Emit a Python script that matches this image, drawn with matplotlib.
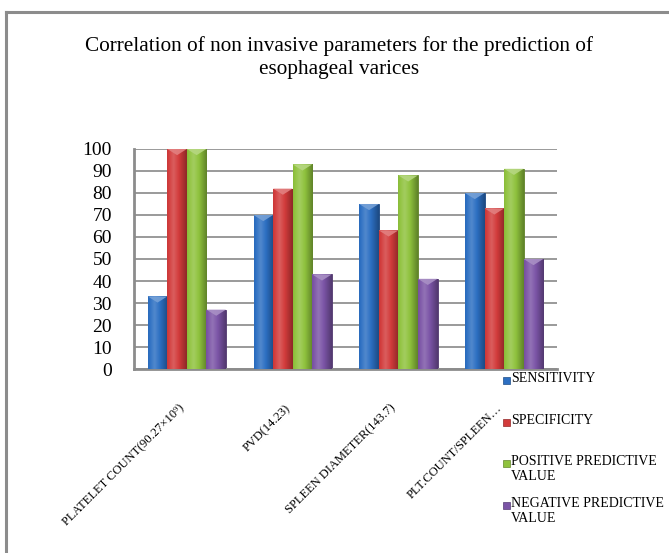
"""
Grouped 3D-style bar chart: non invasive parameters for predicting
esophageal varices (sensitivity / specificity / PPV / NPV).
"""

import numpy as np
import matplotlib

matplotlib.use("Agg")
import matplotlib.pyplot as plt
from matplotlib.colors import to_rgb
from matplotlib.lines import Line2D
from matplotlib.patches import Polygon, Rectangle

categories = [
    "PLATELET COUNT(90.27×10⁹)",
    "PVD(14.23)",
    "SPLEEN DIAMETER(143.7)",
    "PLT.COUNT/SPLEEN…",
]
series_names = [
    "SENSITIVITY",
    "SPECIFICITY",
    "POSITIVE PREDICTIVE\nVALUE",
    "NEGATIVE PREDICTIVE\nVALUE",
]
sensitivity = [33, 70, 75, 80]
specificity = [100, 82, 63, 73]
ppv = [100, 93, 88, 91]
npv = [27, 43, 41, 50]
y_ticks = [0, 10, 20, 30, 40, 50, 60, 70, 80, 90, 100]

colors = ["#2c6fc2", "#d23b3b", "#8fc23d", "#7b54a6"]
SERIF = ["Liberation Serif", "DejaVu Serif"]


def mix(c, other, t):
    c = np.array(to_rgb(c))
    return c * (1 - t) + np.array(other) * t


def shade_bars(ax, bars, color):
    # cylinder-like horizontal gradient plus a lighter pyramid cap
    t = np.linspace(0, 1, 80)
    light = np.clip(1 - np.abs(t - 0.33) / 0.67, 0, 1)
    rows = []
    for v in light:
        if v > 0.6:
            rows.append(mix(color, (1, 1, 1), (v - 0.6) * 0.45))
        else:
            rows.append(mix(color, (0, 0, 0), (0.6 - v) * 0.55))
    img = np.array(rows)[None, :, :]
    for b in bars:
        x0, y0, w, h = b.get_x(), b.get_y(), b.get_width(), b.get_height()
        im = ax.imshow(img, extent=(x0, x0 + w, y0, y0 + h), aspect="auto",
                       interpolation="bicubic", zorder=3)
        im.set_clip_path(b)
        cap = Polygon([(x0, y0 + h), (x0 + w, y0 + h), (x0 + w / 2, y0 + h - 2.8)],
                      closed=True, facecolor=mix(color, (1, 1, 1), 0.35),
                      edgecolor="none", zorder=4, alpha=0.9)
        ax.add_patch(cap)


fig = plt.figure(figsize=(6.69, 5.53), dpi=100)
ax = fig.add_axes([0.2003, 0.3327, 0.6323, 0.3979])

values = [sensitivity, specificity, ppv, npv]
x = np.arange(len(categories))
width = 0.185
for i, (vals, col) in enumerate(zip(values, colors)):
    bars = ax.bar(x + (i - 1.5) * width, vals, width, color=col,
                  edgecolor=mix(col, (0, 0, 0), 0.35), linewidth=0.6, zorder=2)
    shade_bars(ax, bars, col)

ax.set_xlim(-0.5, len(categories) - 0.5)
ax.set_ylim(0, 100)
ax.set_yticks(y_ticks)
ax.set_yticklabels([str(v) for v in y_ticks], family=SERIF, fontsize=14)
ax.set_xticks(x)
ax.set_xticklabels(categories, rotation=45, ha="right", rotation_mode="default",
                   family=SERIF, fontsize=9)
ax.tick_params(axis="y", length=0, pad=16)
ax.tick_params(axis="x", length=0, pad=24)
ax.yaxis.grid(True, color="#9a9a9a", linewidth=1.4, zorder=0)
ax.set_axisbelow(True)
for side in ["top", "right"]:
    ax.spines[side].set_visible(False)
for side in ["left", "bottom"]:
    ax.spines[side].set_color("#8c8c8c")
    ax.spines[side].set_linewidth(2)

# title
fig.text(339 / 669, 1 - 57.5 / 553,
         "Correlation of non invasive parameters for the prediction of\n"
         "esophageal varices",
         ha="center", va="center", multialignment="center",
         family=SERIF, fontsize=15.3, linespacing=1.3)

# legend: square marker + text, first line aligned with marker
legend_rows = [380, 422, 463, 505]
for name, col, ypix in zip(series_names, colors, legend_rows):
    yf = 1 - ypix / 553
    fig.patches.append(Rectangle((503 / 669, yf - 3.5 / 553), 7 / 669, 7 / 553,
                                 transform=fig.transFigure, facecolor=col,
                                 edgecolor=mix(col, (0, 0, 0), 0.3), linewidth=0.5))
    fig.text(511 / 669, yf + 8 / 553, name, ha="left", va="top",
             family=SERIF, fontsize=10, linespacing=1.25)

# outer chart frame (top and left edges visible)
frame_col = "#8c8c8c"
fig.add_artist(Line2D([6 / 669, 1.0], [1 - 12 / 553, 1 - 12 / 553],
                      transform=fig.transFigure, color=frame_col, linewidth=2.2))
fig.add_artist(Line2D([6 / 669, 6 / 669], [0.0, 1 - 12 / 553],
                      transform=fig.transFigure, color=frame_col, linewidth=2.2))

fig.savefig("out.png", dpi=100)
